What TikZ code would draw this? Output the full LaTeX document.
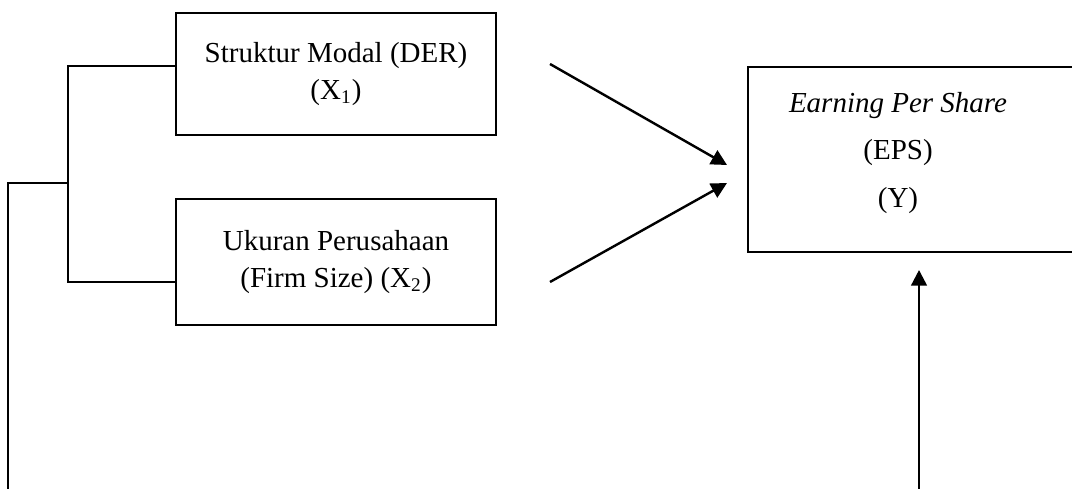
\documentclass[tikz,border=0pt]{standalone}
\usepackage{fontspec}
\setmainfont{Liberation Serif}
\usetikzlibrary{arrows.meta}
\tikzset{
  kotak/.style={draw, thick, minimum width=4.653cm, align=center,
    font=\fontsize{12}{15}\selectfont},
  garis/.style={thick},
  panah/.style={line width=1pt, -{Triangle[length=6.5pt,width=6.5pt]}},
}

\begin{document}
\begin{tikzpicture}[x=0.01454cm,y=-0.01454cm]
\useasboundingbox (0,0) rectangle (1072,488);
\clip (0,0) rectangle (1072,488);
% variabel bebas
\node [kotak, minimum height=1.774cm] (x1) at (336,74) {Struktur Modal (DER)\\(X\textsubscript{1})};
\node [kotak, minimum height=1.832cm] (x2) at (336,262) {Ukuran Perusahaan\\(Firm Size) (X\textsubscript{2})};
% variabel terikat
\node [draw, thick, minimum width=4.97cm, minimum height=2.69cm] (ybox) at (919,159.5) {};
\node [align=center, font=\fontsize{12}{14.5}\selectfont] (y) at (898,153) {\textit{Earning Per Share}\\[5pt](EPS)\\[5pt](Y)};
% kurung kiri
\coordinate (b1) at (68,66);
\coordinate (b2) at (68,282);
\coordinate (b3) at (68,183);
\coordinate (b4) at (8,183);
\coordinate (b5) at (8,495);
\draw [garis] (b1 -| x1.west) -- (b1) -- (b2) -- (b2 -| x2.west);
\draw [garis] (b3) -- (b4) -- (b5);
% panah
\coordinate (a1) at (550,64);
\coordinate (t1) at (727,165);
\coordinate (a2) at (550,282);
\coordinate (t2) at (727,183);
\coordinate (a3) at (919,495);
\coordinate (t3) at (919,270);
\draw [panah] (a1) -- (t1);
\draw [panah] (a2) -- (t2);
\draw [panah] (a3) -- (t3);
\end{tikzpicture}
\end{document}
